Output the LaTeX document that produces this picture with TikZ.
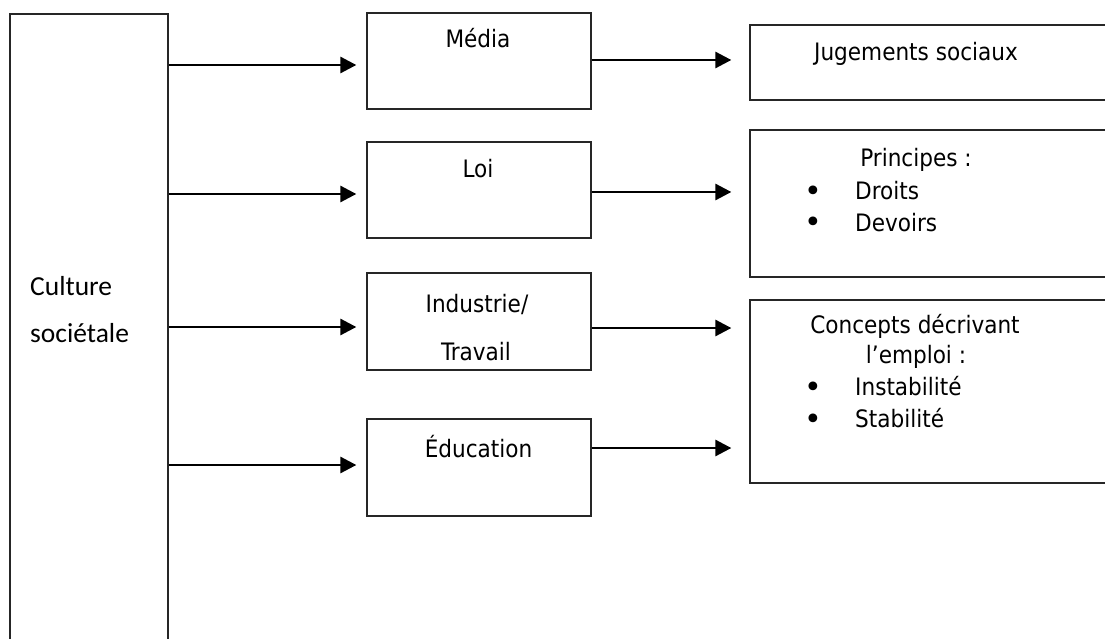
\documentclass[tikz,border=0pt]{standalone}
\usepackage{fontspec}
\setmainfont{DejaVu Sans Condensed}
\newfontfamily\calfont{Carlito}
\newfontfamily\bulfont{DejaVu Sans}
\usetikzlibrary{arrows.meta}
\tikzset{
  box/.style={draw=black!85, line width=1.3pt, inner sep=0pt, rectangle},
  lbl/.style={inner sep=0pt, anchor=base, font=\fontsize{24}{28}\selectfont},
  lblw/.style={lbl, anchor=base west},
  bul/.style={inner sep=0pt, anchor=base, font=\bulfont\fontsize{30}{30}\selectfont},
  cul/.style={inner sep=0pt, anchor=base west, font=\calfont\fontsize{27.5}{33}\selectfont},
  arr/.style={line width=2.8pt, -{Triangle[length=16pt,width=16pt]}, shorten >=10pt},
  arrb/.style={arr, shorten >=18pt}
}
\begin{document}
\begin{tikzpicture}[x=1pt,y=-1pt]
\useasboundingbox (0,0) rectangle (1105,639);
\clip (0,0) rectangle (1105,639);
% boxes
\node[box, minimum width=158pt, minimum height=686pt] (cs) at (89,357) {};
\node[box, minimum width=224pt, minimum height=96pt] (media) at (479,61) {};
\node[box, minimum width=224pt, minimum height=96pt] (loi) at (479,190) {};
\node[box, minimum width=224pt, minimum height=97pt] (ind) at (479,321.5) {};
\node[box, minimum width=224pt, minimum height=97pt] (edu) at (479,467.5) {};
\node[box, minimum width=370pt, minimum height=75pt] (jug) at (935,62.5) {};
\node[box, minimum width=370pt, minimum height=147pt] (pri) at (935,203.5) {};
\node[box, minimum width=370pt, minimum height=183pt] (con) at (935,391.5) {};
% texts
\node[cul] (tc1) at (30,295) {Culture};
\node[cul] (tc2) at (30,342) {sociétale};
\node[lbl] (tm) at (478,48) {Média};
\node[lbl] (tl) at (478,178) {Loi};
\node[lbl] (ti1) at (477,312) {Industrie/};
\node[lbl] (ti2) at (476,360) {Travail};
\node[lbl] (te) at (478.5,457) {Éducation};
\node[lbl] (tj) at (916,61) {Jugements sociaux};
\node[lbl] (tp) at (916,167) {Principes :};
\node[bul] (b1) at (813,202) {•};
\node[lblw] (tp1) at (855,200) {Droits};
\node[bul] (b2) at (813,233) {•};
\node[lblw] (tp2) at (855,231) {Devoirs};
\node[lbl] (tk1) at (915,333) {Concepts décrivant};
\node[lbl] (tk2) at (916,363) {l’emploi :};
\node[bul] (b3) at (813,397) {•};
\node[lblw] (tk3) at (855,395) {Instabilité};
\node[bul] (b4) at (813,429) {•};
\node[lblw] (tk4) at (855,427) {Stabilité};
% arrows
\draw[arr] (cs.east |- 0,65) -- (media.west |- 0,65);
\draw[arr] (cs.east |- 0,194) -- (loi.west |- 0,194);
\draw[arr] (cs.east |- 0,327) -- (ind.west |- 0,327);
\draw[arr] (cs.east |- 0,465) -- (edu.west |- 0,465);
\draw[arrb] (media.east |- 0,60) -- (jug.west |- 0,60);
\draw[arrb] (loi.east |- 0,192) -- (pri.west |- 0,192);
\draw[arrb] (ind.east |- 0,328) -- (con.west |- 0,328);
\draw[arrb] (edu.east |- 0,448) -- (con.west |- 0,448);
\end{tikzpicture}
\end{document}
